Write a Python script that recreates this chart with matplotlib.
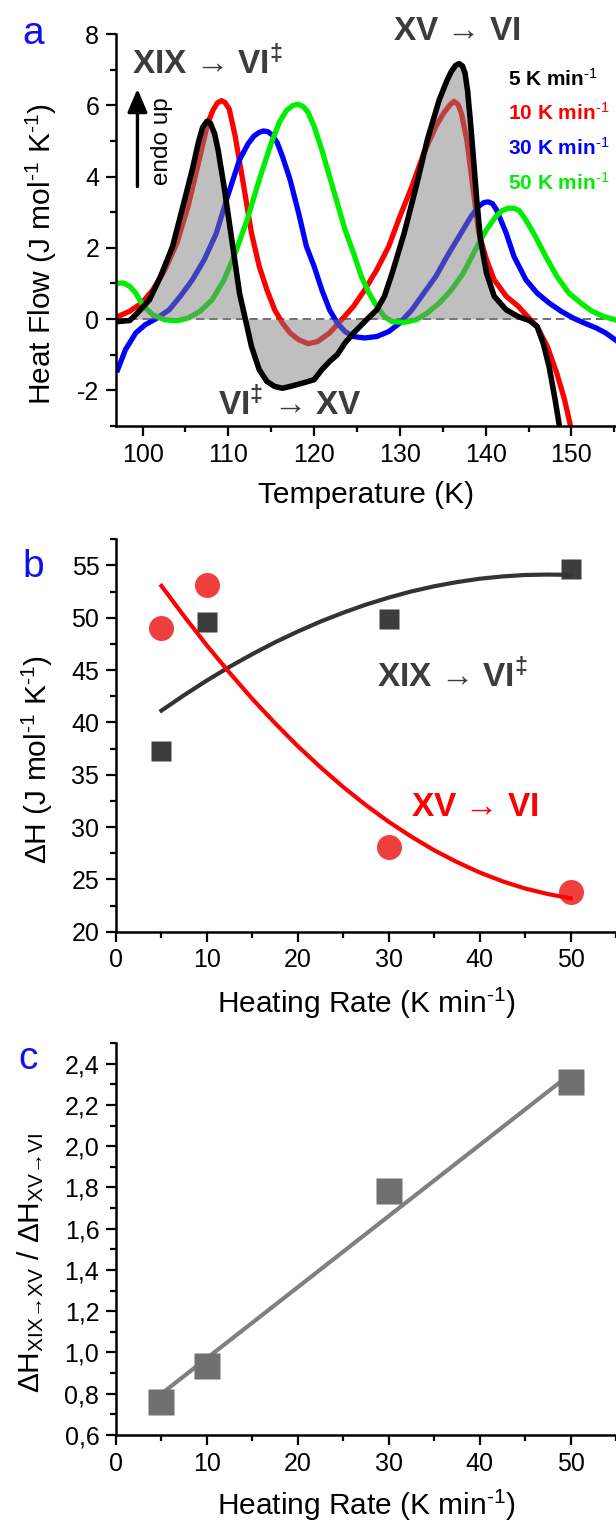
import numpy as np
import matplotlib
matplotlib.use("Agg")
import matplotlib.pyplot as plt
from matplotlib.ticker import MultipleLocator, FuncFormatter

plt.rcParams['font.family'] = ['Liberation Sans', 'DejaVu Sans']
plt.rcParams['mathtext.fontset'] = 'custom'
plt.rcParams['mathtext.rm'] = 'Liberation Sans'
plt.rcParams['mathtext.it'] = 'Liberation Sans:italic'
plt.rcParams['mathtext.bf'] = 'Liberation Sans:bold'
plt.rcParams['mathtext.sf'] = 'Liberation Sans'
plt.rcParams['axes.unicode_minus'] = False

# ---- panel a: DSC scans (T in K, heat flow in J mol-1 K-1) ----
T_5 = [97.1, 98.5, 99.4, 100.8, 102.1, 103.5, 104.9, 105.8, 106.5, 107.0, 107.5, 107.9,
       108.4, 108.8, 109.5, 110.4, 111.3, 112.0, 112.7, 113.6, 114.5, 115.4, 116.3, 117.2,
       118.6, 120.0, 120.9, 121.8, 122.7, 123.6, 124.6, 125.9, 127.3, 128.2, 129.1, 130.5,
       131.9, 133.2, 134.6, 135.5, 136.0, 136.5, 136.9, 137.3, 137.6, 137.9, 138.2, 138.5,
       138.96, 139.4, 140.1, 141.0, 142.4, 143.8, 145.1, 146.0, 146.7, 147.4, 148.1, 148.6]
hf_5 = [-0.07, -0.04, 0.17, 0.54, 1.2, 2.04, 3.35, 4.2, 4.95, 5.38, 5.55, 5.5,
        5.2, 4.75, 3.72, 2.23, 0.73, -0.02, -0.77, -1.42, -1.75, -1.89, -1.94, -1.89,
        -1.80, -1.70, -1.42, -1.19, -1.00, -0.67, -0.39, -0.07, 0.26, 0.64, 1.29, 2.41,
        3.72, 5.03, 6.16, 6.7, 6.95, 7.12, 7.17, 7.1, 6.9, 6.4, 5.6, 4.75,
        3.35, 2.23, 1.29, 0.64, 0.26, 0.07, -0.04, -0.21, -0.67, -1.33, -2.26, -3.0]

T_10 = [97.1, 98.5, 99.9, 101.2, 102.6, 104.0, 105.3, 106.7, 107.6, 108.2, 108.7, 109.2,
        109.6, 110.1, 110.8, 111.8, 112.7, 113.6, 114.5, 115.4, 116.3, 117.2, 118.2, 119.3,
        120.4, 121.8, 123.2, 124.6, 125.9, 127.3, 128.7, 130.0, 131.4, 132.8, 134.2, 135.1,
        135.8, 136.3, 136.8, 137.2, 137.8, 138.5, 139.2, 140.1, 141.0, 142.4, 143.8, 144.9,
        146.0, 147.2, 148.3, 149.2, 149.9]
hf_10 = [0.07, 0.22, 0.45, 0.82, 1.38, 2.13, 3.16, 4.57, 5.5, 5.86, 6.06, 6.13,
         6.08, 5.9, 5.13, 3.72, 2.41, 1.48, 0.82, 0.26, -0.11, -0.39, -0.58, -0.69,
         -0.63, -0.39, -0.02, 0.36, 0.82, 1.38, 2.04, 2.88, 3.72, 4.66, 5.41, 5.78,
         6.0, 6.11, 6.02, 5.75, 5.03, 3.72, 2.41, 1.67, 1.10, 0.64, 0.36, 0.07,
         -0.21, -0.77, -1.52, -2.26, -3.0]

T_30 = [97.1, 98.0, 99.2, 100.3, 101.7, 103.1, 104.4, 105.8, 107.2, 108.6, 109.9, 111.3,
        112.3, 113.0, 113.6, 114.1, 114.6, 115.1, 115.7, 116.3, 117.2, 118.2, 119.1, 120.0,
        120.9, 121.8, 122.7, 123.6, 124.6, 125.9, 127.3, 128.7, 130.0, 131.4, 132.8, 134.2,
        135.5, 136.9, 138.3, 139.2, 139.8, 140.3, 140.8, 141.3, 142.4, 143.3, 144.7, 146.0,
        147.4, 148.8, 150.2, 151.5, 152.9, 154.0, 155.1]
hf_30 = [-1.42, -0.86, -0.39, -0.16, 0.03, 0.26, 0.64, 1.10, 1.67, 2.41, 3.44, 4.47,
         4.92, 5.14, 5.24, 5.28, 5.26, 5.17, 4.95, 4.57, 3.91, 2.97, 2.04, 1.48,
         0.82, 0.26, -0.11, -0.35, -0.49, -0.53, -0.49, -0.35, -0.11, 0.26, 0.73, 1.20,
         1.76, 2.32, 2.88, 3.17, 3.27, 3.29, 3.24, 3.05, 2.41, 1.76, 1.10, 0.73,
         0.45, 0.22, 0.03, -0.11, -0.25, -0.39, -0.58]

T_50 = [97.1, 97.8, 98.5, 99.2, 100.1, 101.2, 102.6, 104.0, 105.3, 106.7, 108.1, 109.5,
        110.8, 112.2, 113.6, 115.0, 116.0, 116.8, 117.5, 118.1, 118.7, 119.3, 120.0, 120.9,
        121.8, 122.7, 123.6, 124.6, 125.5, 126.4, 127.3, 128.2, 129.1, 130.5, 131.9, 133.2,
        134.6, 136.0, 137.4, 138.8, 140.1, 141.2, 141.9, 142.6, 143.3, 143.9, 144.5, 145.6,
        147.0, 148.3, 149.7, 151.1, 152.4, 153.8, 155.1]
hf_50 = [1.01, 1.01, 0.92, 0.73, 0.36, 0.12, -0.02, -0.05, 0.03, 0.22, 0.54, 1.10,
         1.85, 2.79, 3.91, 4.94, 5.55, 5.86, 5.99, 6.03, 5.97, 5.8, 5.41, 4.75,
         4.00, 3.26, 2.51, 1.85, 1.20, 0.73, 0.36, 0.07, -0.07, -0.09, -0.02, 0.17,
         0.45, 0.82, 1.29, 1.95, 2.51, 2.88, 3.04, 3.11, 3.11, 3.05, 2.85, 2.41,
         1.76, 1.20, 0.73, 0.45, 0.22, 0.07, -0.02]

rate_labels = ['5', '10', '30', '50']
rate_colors = ['black', '#ff0000', '#0000ff', '#00ee00']

# ---- panel b: enthalpies vs heating rate ----
rates = [5, 10, 30, 50]
dH_XIX = [37.3, 49.6, 49.9, 54.7]
dH_XV = [49.0, 53.1, 28.05, 23.8]
fit_x = [5, 7.5, 10, 12.5, 15, 17.5, 20, 22.5, 25, 27.5, 30, 32.5, 35, 37.5, 40,
         42.5, 45, 47.5, 50]
fit_XIX = [41.13, 42.61, 44.01, 45.32, 46.53, 47.66, 48.69, 49.64, 50.49, 51.26, 51.93,
           52.52, 53.01, 53.41, 53.73, 53.95, 54.09, 54.13, 54.10]
fit_XV = [53.05, 50.14, 47.35, 44.74, 42.24, 39.92, 37.73, 35.71, 33.82, 32.09, 30.50,
          29.08, 27.78, 26.66, 25.66, 24.82, 24.13, 23.60, 23.20]

# ---- panel c: ratio ----
ratio = [0.762, 0.935, 1.784, 2.31]
ratio_fit_x = [5, 50]
ratio_fit = [0.80, 2.35]

W, H = 616, 1521
fig = plt.figure(figsize=(W / 100, H / 100), dpi=100)

def px_axes(top, bottom):
    return fig.add_axes([116 / W, 1 - bottom / H, 500 / W, (bottom - top) / H])

def style(ax):
    for s in ['top', 'right']:
        ax.spines[s].set_visible(False)
    for s in ['left', 'bottom']:
        ax.spines[s].set_linewidth(1.8)
    ax.tick_params(which='major', direction='out', length=7, width=1.6, labelsize=18, pad=5)
    ax.tick_params(which='minor', direction='out', length=4, width=1.6)

def ftext(x, y, s, **kw):
    fig.text(x / W, 1 - y / H, s, **kw)

gray_txt = '#3c3c3c'
arrow = r'\ \mathrm{→}\ '
t_XIX_VI = r'$\mathbf{XIX}' + arrow + r'\mathbf{VI}^{\mathbf{‡}}$'
t_XV_VI = r'$\mathbf{XV}' + arrow + r'\mathbf{VI}$'
t_VI_XV = r'$\mathbf{VI}^{\mathbf{‡}}' + arrow + r'\mathbf{XV}$'
inv = r'$^{\text{-1}}$'
ann_fs = 24

# panel a
ax1 = px_axes(34, 426)
style(ax1)
ax1.set_xlim(96.9, 155.2)
ax1.set_ylim(-3, 8)
ax1.xaxis.set_major_locator(MultipleLocator(10))
ax1.xaxis.set_minor_locator(MultipleLocator(5))
ax1.yaxis.set_major_locator(MultipleLocator(2))
ax1.yaxis.set_minor_locator(MultipleLocator(1))
ax1.axhline(0, color='#555555', lw=1.2, ls=(0, (5, 3)), zorder=1)
ax1.plot(T_10, hf_10, color=rate_colors[1], lw=3.8, zorder=2)
ax1.plot(T_30, hf_30, color=rate_colors[2], lw=3.8, zorder=2)
ax1.plot(T_50, hf_50, color=rate_colors[3], lw=3.8, zorder=2)
T5 = np.array(T_5)
h5 = np.array(hf_5)
ax1.fill_between(T5, h5, 0, where=(T5 >= 98.8) & (T5 <= 145.6), interpolate=True,
                 color='#808080', alpha=0.5, lw=0, zorder=3)
ax1.plot(T_5, hf_5, color=rate_colors[0], lw=4, zorder=4)

ax1.text(98.75, 6.88, t_XIX_VI, color=gray_txt, fontsize=ann_fs, ha='left', va='baseline', zorder=5)
ax1.text(129.2, 7.84, t_XV_VI, color=gray_txt, fontsize=ann_fs, ha='left', va='baseline', zorder=5)
ax1.text(108.8, -2.69, t_VI_XV, color=gray_txt, fontsize=ann_fs, ha='left', va='baseline', zorder=5)
leg_y = [6.54, 5.59, 4.61, 3.63]
for lab, col, yy in zip(rate_labels, rate_colors, leg_y):
    ax1.text(142.6, yy, lab + ' K min' + r'$^{\text{-1}}$', color=col, fontweight='bold',
             fontsize=15, ha='left', va='baseline', zorder=5)
ax1.annotate('', xy=(99.4, 6.46), xytext=(99.4, 3.72),
             arrowprops=dict(arrowstyle='-|>,head_length=0.7,head_width=0.3', lw=2.4,
                             color='black', shrinkA=0, shrinkB=0, mutation_scale=20))
ax1.text(102.3, 4.98, 'endo up', rotation=90, fontsize=17.5, ha='center', va='center')

# panel b
ax2 = px_axes(539.3, 931.7)
style(ax2)
ax2.set_xlim(0, 55)
ax2.set_ylim(20, 57.5)
ax2.xaxis.set_major_locator(MultipleLocator(10))
ax2.xaxis.set_minor_locator(MultipleLocator(5))
ax2.yaxis.set_major_locator(MultipleLocator(5))
ax2.yaxis.set_minor_locator(MultipleLocator(2.5))
ax2.plot(rates, dH_XIX, 's', color='#3d3d3d', ms=15, mec='none', zorder=2)
ax2.plot(rates, dH_XV, 'o', color='#ef3e3e', ms=18, mec='none', zorder=2)
ax2.plot(fit_x, fit_XIX, color='#333333', lw=3, zorder=3)
ax2.plot(fit_x, fit_XV, color='#ff0000', lw=3, zorder=3)
ax2.text(28.7, 43.36, t_XIX_VI, color=gray_txt, fontsize=ann_fs, ha='left', va='baseline')
ax2.text(32.5, 31.1, t_XV_VI, color='#ff0000', fontsize=ann_fs, ha='left', va='baseline')

# panel c
ax3 = px_axes(1043, 1435)
style(ax3)
ax3.set_xlim(0, 55)
ax3.set_ylim(0.6, 2.5)
ax3.xaxis.set_major_locator(MultipleLocator(10))
ax3.xaxis.set_minor_locator(MultipleLocator(5))
ax3.yaxis.set_major_locator(MultipleLocator(0.2))
ax3.yaxis.set_minor_locator(MultipleLocator(0.1))
ax3.yaxis.set_major_formatter(FuncFormatter(lambda v, p: f'{v:.1f}'.replace('.', ',')))
ax3.plot(ratio_fit_x, ratio_fit, color='#808080', lw=3, zorder=2)
ax3.plot(rates, ratio, 's', color='#707070', ms=19, mec='none', zorder=3)

# axis labels and panel letters
lab_fs = 21.5
ftext(41, 254, 'Heat Flow (J mol' + inv + ' K' + inv + ')', rotation=90, fontsize=lab_fs,
      ha='center', va='center')
ftext(366, 503, 'Temperature (K)', fontsize=lab_fs, ha='center', va='baseline')
ftext(37, 760, r'$\Delta$H (J mol' + inv + ' K' + inv + ')', rotation=90, fontsize=lab_fs,
      ha='center', va='center')
ftext(366, 1013, 'Heating Rate (K min' + inv + ')', fontsize=lab_fs, ha='center', va='baseline')
ftext(31, 1263, r'$\Delta$H$_{\mathrm{XIX→XV}}$ / $\Delta$H$_{\mathrm{XV→VI}}$',
      rotation=90, fontsize=lab_fs, ha='center', va='center')
ftext(366, 1515, 'Heating Rate (K min' + inv + ')', fontsize=lab_fs, ha='center', va='baseline')

ftext(33.5, 44, 'a', color='#1010ee', fontsize=28, ha='center', va='baseline')
ftext(33, 577, 'b', color='#1010ee', fontsize=28, ha='center', va='baseline')
ftext(28, 1069, 'c', color='#1010ee', fontsize=28, ha='center', va='baseline')

fig.savefig('out.png', dpi=100)
